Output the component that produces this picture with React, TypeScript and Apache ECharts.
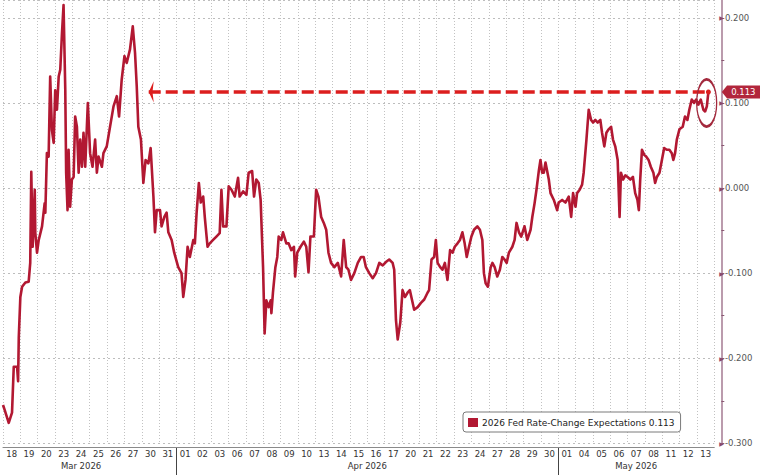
import React, { useEffect, useRef } from "react";
import * as echarts from "echarts";

// trading-day labels (Mar 18 .. May 13, 2026)
const dayLabels = [
  "18", "19", "20", "23", "24", "25", "26", "27", "30", "31",
  "01", "02", "03", "06", "07", "08", "09", "10", "13", "14", "15", "16", "17",
  "20", "21", "22", "23", "24", "27", "28", "29", "30",
  "01", "04", "05", "06", "07", "08", "11", "12", "13",
];
const monthNames = ["Mar 2026", "Apr 2026", "May 2026"];
const monthLabelAt = [4.5, 21, 36.5];
const monthStartIndex = [10, 32];

const seriesName = "2026 Fed Rate-Change Expectations 0.113";
const lastValue = 0.113;
const arrowFrom = 8.4;

// time in trading days since Mar 18 open, value = expected 2026 rate change
const marT = [0, 0.1, 0.33, 0.52, 0.62, 0.81, 0.87, 0.91, 1.0, 1.1, 1.29, 1.48, 1.57, 1.63, 1.71, 1.83, 1.86, 1.96, 2.06, 2.25, 2.4, 2.44, 2.53, 2.63, 2.72, 2.82, 2.92, 3.01, 3.11, 3.21, 3.3, 3.4, 3.49, 3.59, 3.64, 3.72, 3.78, 3.87, 3.97, 4.07, 4.16, 4.26, 4.36, 4.45, 4.55, 4.64, 4.74, 4.89, 5.02, 5.16, 5.31, 5.41, 5.51, 5.7, 5.79, 5.98, 6.17, 6.37, 6.56, 6.69, 6.84, 7.0, 7.13, 7.32, 7.48, 7.61, 7.71, 7.8, 7.95, 8.09, 8.22, 8.38, 8.51, 8.67, 8.76, 8.86, 9.05, 9.14, 9.3, 9.43, 9.53, 9.72, 9.87];
const marV = [-0.255, -0.261, -0.276, -0.264, -0.21, -0.21, -0.227, -0.175, -0.128, -0.116, -0.111, -0.11, -0.088, 0.019, -0.069, -0.002, -0.052, -0.076, -0.061, -0.045, -0.018, -0.029, 0.041, 0.037, 0.131, 0.068, 0.053, 0.115, 0.092, 0.131, 0.139, 0.182, 0.215, 0.115, 0.018, -0.026, 0.045, -0.022, 0.01, 0.013, 0.084, 0.072, 0.018, 0.057, 0.025, 0.065, 0.025, 0.1, 0.041, 0.025, 0.057, 0.018, 0.037, 0.025, 0.041, 0.049, 0.072, 0.096, 0.108, 0.084, 0.127, 0.155, 0.147, 0.163, 0.19, 0.159, 0.119, 0.072, 0.057, 0.006, 0.033, 0.029, 0.047, -0.01, -0.052, -0.026, -0.026, -0.045, -0.034, -0.029, -0.052, -0.061, -0.076];

const aprT = [10.1, 10.29, 10.39, 10.52, 10.64, 10.77, 10.97, 11.06, 11.16, 11.29, 11.4, 11.54, 11.63, 11.79, 11.92, 12.11, 12.3, 12.49, 12.59, 12.69, 12.88, 13.01, 13.17, 13.36, 13.55, 13.64, 13.84, 14.03, 14.16, 14.36, 14.47, 14.6, 14.74, 14.85, 14.99, 15.08, 15.18, 15.31, 15.43, 15.47, 15.56, 15.7, 15.81, 15.89, 16.04, 16.14, 16.33, 16.46, 16.62, 16.77, 16.84, 16.96, 17.15, 17.34, 17.48, 17.61, 17.72, 17.92, 18.05, 18.18, 18.34, 18.49, 18.63, 18.76, 18.91, 19.1, 19.3, 19.49, 19.64, 19.78, 19.91, 20.06, 20.25, 20.45, 20.64, 20.79, 20.92, 21.11, 21.31, 21.5, 21.69, 21.89, 22.07, 22.26, 22.46, 22.55, 22.65, 22.75, 22.9, 23.03, 23.17, 23.32, 23.45, 23.57, 23.7, 23.9, 24.09, 24.28, 24.47, 24.56, 24.7, 24.85, 24.95, 25.05, 25.2, 25.33, 25.47, 25.62, 25.77, 25.91, 26.04, 26.2, 26.34, 26.48, 26.61, 26.73, 26.86, 27.0, 27.15, 27.34, 27.49, 27.63, 27.72, 27.82, 27.95, 28.11, 28.21, 28.34, 28.49, 28.64, 28.78, 28.91, 29.03, 29.16, 29.36, 29.49, 29.6, 29.74, 29.87, 30.06, 30.22, 30.41, 30.51, 30.64, 30.75, 30.89, 30.98, 31.08, 31.17, 31.27, 31.46, 31.56, 31.75, 31.94];
const aprV = [-0.093, -0.1, -0.128, -0.108, -0.069, -0.081, -0.061, -0.065, -0.029, 0.006, -0.017, -0.01, -0.034, -0.069, -0.065, -0.061, -0.057, -0.053, -0.002, -0.045, -0.045, 0.002, -0.002, -0.01, 0.012, -0.01, -0.004, -0.008, 0.018, 0.02, -0.01, 0.01, 0.006, -0.014, -0.093, -0.171, -0.132, -0.14, -0.132, -0.147, -0.123, -0.093, -0.081, -0.057, -0.061, -0.052, -0.065, -0.065, -0.073, -0.069, -0.104, -0.076, -0.069, -0.063, -0.069, -0.099, -0.057, -0.057, -0.002, -0.01, -0.034, -0.041, -0.049, -0.076, -0.088, -0.093, -0.088, -0.104, -0.061, -0.093, -0.096, -0.108, -0.1, -0.088, -0.081, -0.081, -0.093, -0.1, -0.106, -0.1, -0.088, -0.091, -0.087, -0.084, -0.088, -0.096, -0.155, -0.178, -0.158, -0.12, -0.128, -0.123, -0.12, -0.131, -0.143, -0.14, -0.135, -0.131, -0.123, -0.12, -0.084, -0.081, -0.061, -0.088, -0.093, -0.096, -0.088, -0.108, -0.073, -0.076, -0.069, -0.065, -0.061, -0.052, -0.065, -0.081, -0.069, -0.057, -0.049, -0.045, -0.049, -0.061, -0.1, -0.112, -0.116, -0.093, -0.088, -0.093, -0.104, -0.096, -0.081, -0.084, -0.088, -0.076, -0.069, -0.061, -0.041, -0.052, -0.057, -0.045, -0.061, -0.049, -0.034, -0.018, -0.002, 0.021, 0.033, 0.018, 0.018, 0.03, 0.01, -0.006, -0.014, -0.026];

const mayT = [32.03, 32.23, 32.42, 32.61, 32.75, 32.86, 33.0, 33.09, 33.24, 33.38, 33.47, 33.63, 33.76, 33.9, 34.01, 34.14, 34.28, 34.43, 34.53, 34.66, 34.78, 34.91, 35.05, 35.16, 35.29, 35.43, 35.54, 35.62, 35.74, 35.87, 36.0, 36.16, 36.31, 36.44, 36.57, 36.65, 36.73, 36.83, 36.96, 37.07, 37.21, 37.34, 37.49, 37.59, 37.69, 37.84, 37.98, 38.11, 38.26, 38.41, 38.55, 38.64, 38.74, 38.84, 38.99, 39.18, 39.31, 39.45, 39.56, 39.7, 39.84, 39.95, 40.08, 40.22, 40.37, 40.47, 40.57, 40.66];
const mayV = [-0.017, -0.014, -0.017, -0.01, -0.034, -0.006, -0.022, -0.006, -0.002, 0.004, 0.018, 0.057, 0.092, 0.08, 0.077, 0.08, 0.077, 0.08, 0.065, 0.049, 0.065, 0.069, 0.072, 0.057, 0.049, 0.033, -0.034, 0.018, 0.01, 0.015, 0.013, 0.01, 0.013, -0.006, -0.014, -0.026, 0.01, 0.045, 0.039, 0.037, 0.033, 0.025, 0.018, 0.006, 0.013, 0.018, 0.033, 0.047, 0.045, 0.045, 0.041, 0.033, 0.041, 0.057, 0.069, 0.072, 0.084, 0.08, 0.092, 0.104, 0.1, 0.104, 0.098, 0.104, 0.092, 0.09, 0.096, 0.113];

const FONT = "DejaVu Sans";

export default function App() {
  const ref = useRef<HTMLDivElement>(null);

  useEffect(() => {
    if (!ref.current) return;
    const chart = echarts.init(ref.current, undefined, { renderer: "svg" });

    const times = [...marT, ...aprT, ...mayT];
    const values = [...marV, ...aprV, ...mayV];
    const data = times.map((t, i) => [t, values[i]]);
    const lastT = times[times.length - 1];

    chart.setOption({
      animation: false,
      backgroundColor: "#ffffff",
      textStyle: { fontFamily: FONT },
      grid: { left: 0.9, right: 45.7, top: 0, bottom: 31.7, containLabel: false },
      legend: {
        left: 463,
        top: 412,
        padding: [6, 6, 5, 5],
        itemWidth: 10,
        itemHeight: 9,
        icon: "rect",
        borderColor: "#7a7a7a",
        borderWidth: 1,
        borderRadius: 3,
        backgroundColor: "#ffffff",
        selectedMode: false,
        textStyle: { fontSize: 9, color: "#222", fontFamily: FONT, padding: [0, 0, 0, -1] },
        data: [seriesName],
      },
      xAxis: [
        { type: "value", min: 0, max: 41, show: false, axisLine: { onZero: false } },
        {
          type: "category",
          data: dayLabels,
          boundaryGap: true,
          position: "bottom",
          offset: 4,
          axisLine: { show: true, onZero: false, lineStyle: { color: "#8a8a8a", width: 1 } },
          axisTick: { show: false },
          axisLabel: { interval: 0, fontSize: 8.5, color: "#333", margin: 2, fontFamily: FONT },
          splitLine: { show: true, interval: 0, lineStyle: { color: "#c2c2c2", type: [1, 2], width: 1 } },
        },
        {
          type: "value",
          min: 0,
          max: 41,
          interval: 0.5,
          position: "bottom",
          offset: 4,
          axisLine: { show: false, onZero: false },
          axisTick: { show: false },
          splitLine: { show: false },
          axisLabel: {
            margin: 14,
            fontSize: 8.5,
            color: "#333",
            fontFamily: FONT,
            formatter: (v: number) => {
              const k = monthLabelAt.findIndex((a) => Math.abs(a - v) < 1e-6);
              return k >= 0 ? monthNames[k] : "";
            },
          },
        },
      ],
      yAxis: [
        {
          type: "value",
          position: "right",
          offset: 7,
          min: -0.3,
          max: 0.221,
          interval: 0.05,
          axisLine: { show: true, onZero: false, lineStyle: { color: "#a57a92", width: 1.5 } },
          axisTick: { show: true, length: 3, lineStyle: { color: "#8a5a74" } },
          splitLine: { show: false },
          axisLabel: {
            margin: -2,
            showMaxLabel: false,
            formatter: (v: number) => {
              const k = Math.round(v * 10);
              if (Math.abs(v * 10 - k) > 1e-6) return "";
              return "{t|▶}{v|" + (k / 10).toFixed(3) + "}";
            },
            rich: {
              t: { color: "#8a4a6a", fontSize: 6, fontFamily: FONT, padding: [0, 1, 0, 0] },
              v: { color: "#555", fontSize: 8.5, fontFamily: FONT },
            },
          },
        },
        {
          type: "value",
          position: "left",
          min: -0.3,
          max: 0.221,
          interval: 0.1,
          axisLine: { show: false, onZero: false },
          axisTick: { show: false },
          axisLabel: { show: false },
          splitLine: { show: true, lineStyle: { color: "#bdbdbd", type: [2, 3], width: 1 } },
        },
      ],
      series: [
        {
          name: seriesName,
          type: "line",
          xAxisIndex: 0,
          yAxisIndex: 0,
          data,
          showSymbol: false,
          symbol: "none",
          clip: false,
          lineStyle: { color: "#b21832", width: 2.6, join: "round" },
          itemStyle: { color: "#b21832" },
          markLine: {
            silent: true,
            symbol: ["arrow", "circle"],
            symbolSize: [16, 5],
            label: { show: false },
            lineStyle: { color: "#dc1e1e", width: 3.5, type: [12, 5] },
            data: [[{ coord: [arrowFrom, lastValue] }, { coord: [lastT, lastValue] }]],
          },
          markPoint: {
            silent: true,
            data: [
              {
                coord: [lastT - 0.1, lastValue - 0.013],
                symbol: "circle",
                symbolSize: [20, 47],
                itemStyle: { color: "rgba(0,0,0,0)", borderColor: "#a3293d", borderWidth: 2 },
                label: { show: false },
              },
              {
                coord: [41, lastValue],
                symbol: "path://M0,6L6,0H44V12H6Z",
                symbolSize: [39, 13],
                symbolOffset: [27, 0],
                itemStyle: { color: "#b2263c" },
                label: {
                  show: true,
                  position: "inside",
                  formatter: lastValue.toFixed(3),
                  color: "#ffffff",
                  fontSize: 8.5,
                  fontFamily: FONT,
                  offset: [2, 0],
                },
              },
            ],
          },
        },
      ],
    });

    const y0 = chart.convertToPixel({ yAxisIndex: 0 }, -0.3) as number;
    const h = chart.getHeight();
    chart.setOption({
      graphic: monthStartIndex.map((i) => {
        const x = Math.round(chart.convertToPixel({ xAxisIndex: 0 }, i) as number) + 0.5;
        return {
          type: "line",
          silent: true,
          shape: { x1: x, y1: y0 + 4, x2: x, y2: h },
          style: { stroke: "#444", lineWidth: 1 },
        };
      }),
    });

    return () => chart.dispose();
  }, []);

  return (
    <div
      ref={ref}
      style={{ position: "absolute", left: 0, top: 0, width: 760, height: 475, background: "#fff" }}
    />
  );
}
